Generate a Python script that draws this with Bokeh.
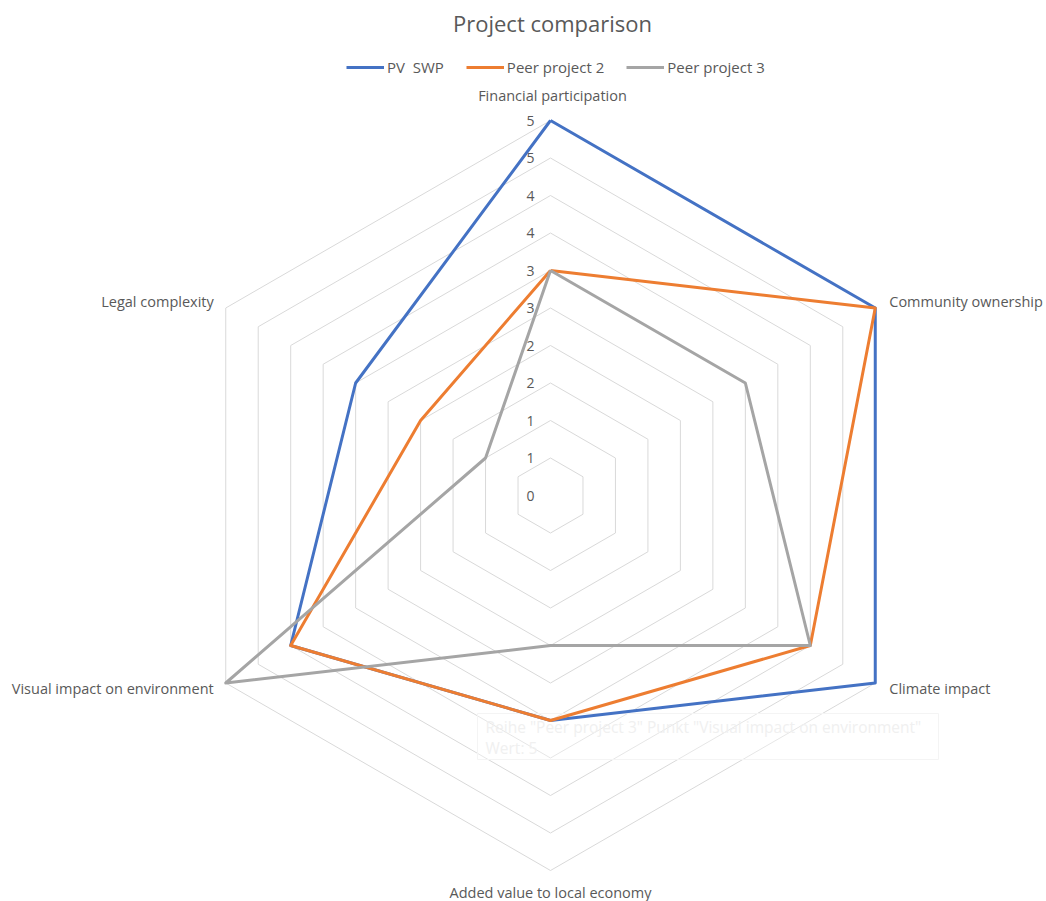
import numpy as np
from bokeh.plotting import figure
from bokeh.models import Range1d, Legend, LegendItem
from bokeh.core.properties import value
from bokeh.embed import file_html
from bokeh.resources import INLINE

# ---------------- data ----------------
categories = ["Financial participation", "Community ownership", "Climate impact",
              "Added value to local economy", "Visual impact on environment", "Legal complexity"]
series_names = ["PV  SWP", "Peer project 2", "Peer project 3"]
pv_swp = [5, 5, 5, 3, 4, 3]
peer_project_2 = [3, 5, 4, 3, 4, 2]
peer_project_3 = [3, 3, 4, 2, 5, 1]
grid_values = [0, 0.5, 1, 1.5, 2, 2.5, 3, 3.5, 4, 4.5, 5]
tick_labels = ["0", "1", "1", "2", "2", "3", "3", "4", "4", "5", "5"]
title_text = "Project comparison"
tooltip_lines = ['Reihe "Peer project 3" Punkt "Visual impact on environment"', 'Wert: 5']

# ---------------- layout ----------------
W, H = 1046, 901
CX, CY = 550, 495          # centre of radar in screen px
SCALE = 75.0               # px per unit value
FONT = "Open Sans"
TXT = "#595959"
colors = ["#4472C4", "#ED7D31", "#A5A5A5"]

def px(x, y):
    return (x - CX) / SCALE, (CY - y) / SCALE

n = len(categories)
angles = np.pi / 2 - np.arange(n) * 2 * np.pi / n

def polar(vals):
    v = np.asarray(vals, dtype=float)
    xs = v * np.cos(angles)
    ys = v * np.sin(angles)
    return list(xs) + [xs[0]], list(ys) + [ys[0]]

x0, y1 = px(0, 0)
x1, y0 = px(W, H)
p = figure(width=W, height=H, x_range=Range1d(x0, x1), y_range=Range1d(y0, y1),
           output_backend="svg", toolbar_location=None, min_border=0,
           x_axis_type=None, y_axis_type=None)
p.outline_line_color = None
p.background_fill_color = "white"
p.border_fill_color = "white"

# grid rings
ring_xs, ring_ys = [], []
for g in grid_values[1:]:
    gx, gy = polar([g] * n)
    ring_xs.append(gx)
    ring_ys.append(gy)
p.multi_line(xs=ring_xs, ys=ring_ys, line_color="#d9d9d9", line_width=1)

# faint tooltip artefact
bx0, by1 = px(477, 713)
bx1, by0 = px(938, 759)
p.quad(left=[bx0], right=[bx1], bottom=[by0], top=[by1], fill_color="white",
       fill_alpha=0.35, line_color="#f4f4f4", line_width=1)
tx, ty = px(485, 726)
p.text(x=[tx], y=[ty], text=[tooltip_lines[0]], text_font=value(FONT), text_font_size="15.5px",
       text_color="#f0f0f0", text_align="left", text_baseline="middle")
tx, ty = px(485, 747)
p.text(x=[tx], y=[ty], text=[tooltip_lines[1]], text_font=value(FONT), text_font_size="15.5px",
       text_color="#f0f0f0", text_align="left", text_baseline="middle")

# tick labels along top spoke
p.text(x=[0] * len(grid_values), y=grid_values, text=tick_labels, text_font=value(FONT),
       text_font_size="14px", text_color=TXT, text_align="right", text_baseline="middle",
       x_offset=-16)

# series
renderers = []
for name, vals, c in zip(series_names, [pv_swp, peer_project_2, peer_project_3], colors):
    xs, ys = polar(vals)
    r = p.line(xs, ys, line_color=c, line_width=3, line_join="round")
    renderers.append(r)

# category labels
lx, ly = polar([5] * n)
aligns = ["center", "left", "left", "center", "right", "right"]
xoffs = [2, 14, 14, 0, -12, -12]
yoffs = [-25, -7, 5, 22, 5, -7]
for i, cat in enumerate(categories):
    p.text(x=[lx[i]], y=[ly[i]], text=[cat], text_font=value(FONT), text_font_size="14.5px",
           text_color=TXT, text_align=aligns[i], text_baseline="middle",
           x_offset=xoffs[i], y_offset=yoffs[i])

# title
tx, ty = px(552, 22)
p.text(x=[tx], y=[ty], text=[title_text], text_font=value(FONT), text_font_size="22px",
       text_color=TXT, text_align="center", text_baseline="middle")

legend = Legend(items=[LegendItem(label=nm, renderers=[r]) for nm, r in zip(series_names, renderers)],
                orientation="horizontal", location=(346, H - 77),
                glyph_width=38, glyph_height=18, label_height=18, label_standoff=3,
                spacing=22, padding=0, margin=0, border_line_color=None,
                background_fill_alpha=0, label_text_font=FONT, label_text_font_size="15px",
                label_text_color=TXT)
p.add_layout(legend)

open("out.html", "w").write(file_html(p, INLINE))
